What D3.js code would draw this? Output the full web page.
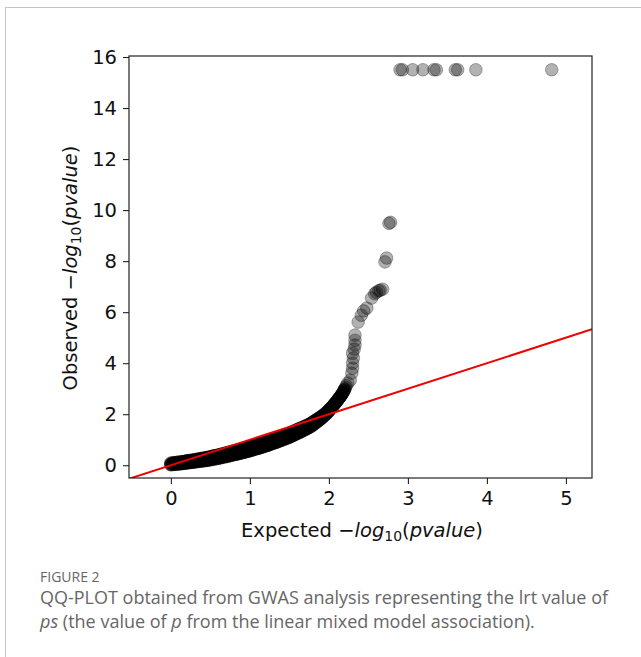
<!DOCTYPE html>
<html>
<head>
<meta charset="utf-8">
<script src="https://cdn.jsdelivr.net/npm/d3@7"></script>
<style>
	html, body { margin: 0; padding: 0; background: white; }
	svg { display: block; }
</style>
</head>
<body>
<div id="container"></div>
<script>
// dense part of the QQ curve (expected vs observed -log10 p)
const bandExpected = [
	0.000, 0.025, 0.050, 0.075, 0.100, 0.125, 0.150, 0.175, 0.200, 0.225,
	0.250, 0.275, 0.300, 0.325, 0.350, 0.375, 0.400, 0.425, 0.450, 0.475,
	0.500, 0.525, 0.550, 0.575, 0.600, 0.625, 0.650, 0.675, 0.700, 0.725,
	0.750, 0.775, 0.800, 0.825, 0.850, 0.875, 0.900, 0.925, 0.950, 0.975,
	1.000, 1.025, 1.050, 1.075, 1.100, 1.125, 1.150, 1.175, 1.200, 1.225,
	1.250, 1.275, 1.300, 1.325, 1.350, 1.375, 1.400, 1.425, 1.450, 1.475,
	1.500, 1.525, 1.550, 1.575, 1.600, 1.625, 1.650, 1.675, 1.700, 1.725,
	1.750, 1.775, 1.800, 1.825, 1.850, 1.875, 1.900, 1.925, 1.950, 1.975,
	2.000
];
// upper edge of the black band
const bandObserved = [
	0.08, 0.09, 0.10, 0.11, 0.12, 0.13, 0.14, 0.15, 0.17, 0.18,
	0.19, 0.20, 0.21, 0.23, 0.24, 0.26, 0.27, 0.28, 0.30, 0.31,
	0.33, 0.35, 0.37, 0.38, 0.40, 0.42, 0.44, 0.46, 0.48, 0.50,
	0.52, 0.54, 0.56, 0.58, 0.60, 0.62, 0.64, 0.66, 0.69, 0.71,
	0.73, 0.75, 0.78, 0.80, 0.82, 0.85, 0.87, 0.90, 0.92, 0.95,
	0.97, 1.00, 1.03, 1.06, 1.09, 1.12, 1.14, 1.17, 1.20, 1.23,
	1.26, 1.29, 1.33, 1.36, 1.40, 1.43, 1.46, 1.50, 1.53, 1.57,
	1.60, 1.65, 1.70, 1.75, 1.80, 1.85, 1.90, 1.96, 2.02, 2.09,
	2.17
];
// lower edge of the black band
const bandObservedLow = [
	0.02, 0.03, 0.04, 0.05, 0.05, 0.06, 0.07, 0.08, 0.09, 0.10,
	0.11, 0.12, 0.13, 0.14, 0.15, 0.16, 0.17, 0.18, 0.19, 0.20,
	0.22, 0.23, 0.25, 0.26, 0.28, 0.29, 0.31, 0.33, 0.34, 0.36,
	0.38, 0.40, 0.42, 0.43, 0.45, 0.47, 0.49, 0.51, 0.53, 0.55,
	0.57, 0.59, 0.62, 0.64, 0.66, 0.68, 0.71, 0.73, 0.76, 0.78,
	0.81, 0.84, 0.87, 0.89, 0.92, 0.95, 0.98, 1.01, 1.04, 1.07,
	1.10, 1.14, 1.17, 1.21, 1.25, 1.28, 1.32, 1.36, 1.40, 1.44,
	1.48, 1.53, 1.58, 1.64, 1.70, 1.76, 1.82, 1.89, 1.96, 2.03,
	2.11
];

// the sparser tail that bends upwards
const tailExpected = [
	2.01, 2.02, 2.03, 2.04, 2.05, 2.06, 2.07, 2.08, 2.09, 2.10,
	2.11, 2.12, 2.13, 2.14, 2.15, 2.16, 2.17, 2.18, 2.19, 2.20,
	2.21, 2.22, 2.24, 2.27, 2.29, 2.30, 2.30, 2.31, 2.30, 2.32,
	2.33, 2.33, 2.33, 2.37, 2.41, 2.44, 2.48, 2.54, 2.58, 2.60,
	2.63, 2.65, 2.68, 2.71, 2.73, 2.76, 2.78
];
const tailObserved = [
	2.19, 2.22, 2.25, 2.28, 2.32, 2.36, 2.40, 2.43, 2.47, 2.51,
	2.55, 2.60, 2.63, 2.67, 2.72, 2.76, 2.81, 2.86, 2.92, 2.98,
	3.05, 3.12, 3.22, 3.33, 3.61, 3.80, 4.00, 4.20, 4.39, 4.55,
	4.71, 4.90, 5.10, 5.61, 5.88, 6.05, 6.16, 6.55, 6.72, 6.78,
	6.84, 6.86, 6.90, 7.97, 8.12, 9.48, 9.52
];

// p = 0 values, capped at the top row
const capExpected = [2.90, 2.93, 3.06, 3.19, 3.33, 3.36, 3.60, 3.63, 3.86, 4.82];
const capObserved = [15.5, 15.5, 15.5, 15.5, 15.5, 15.5, 15.5, 15.5, 15.5, 15.5];

const xTicks = [0, 1, 2, 3, 4, 5];
const yTicks = [0, 2, 4, 6, 8, 10, 12, 14, 16];

const W = 641, H = 657;
const LEFT = 129, RIGHT = 592, TOP = 56, BOTTOM = 478;
const TICK_FONT = '"DejaVu Sans", sans-serif';
const FONT_SIZE = '19.5px';
const STACKED = 0.6, SINGLE = 0.3;

const svg = d3.select('#container').append('svg')
	.attr('width', W)
	.attr('height', H);

// outer figure box
svg.append('rect')
	.attr('x', 5.5).attr('y', 7.5)
	.attr('width', 700).attr('height', 700)
	.attr('fill', 'white')
	.attr('stroke', '#c4c4c4')
	.attr('stroke-width', 1);

const x = d3.scaleLinear().domain([-0.53, 5.33]).range([LEFT, RIGHT]);
const y = d3.scaleLinear().domain([-0.5, 16.04]).range([BOTTOM, TOP]);

svg.append('clipPath').attr('id', 'plotclip')
	.append('rect')
	.attr('x', LEFT).attr('y', TOP)
	.attr('width', RIGHT - LEFT).attr('height', BOTTOM - TOP);

const plot = svg.append('g').attr('clip-path', 'url(#plotclip)');

// points in the dense part stand for many stacked SNPs, so they are drawn darker
const points = [];
bandExpected.forEach((e, i) => points.push([e, bandObserved[i], STACKED]));
bandExpected.forEach((e, i) => points.push([e, bandObservedLow[i], STACKED]));
tailExpected.forEach((e, i) => points.push([e, tailObserved[i], tailObserved[i] < 3 ? STACKED : SINGLE]));
capExpected.forEach((e, i) => points.push([e, capObserved[i], SINGLE]));

plot.selectAll('circle').data(points).enter().append('circle')
	.attr('cx', d => x(d[0]))
	.attr('cy', d => y(d[1]))
	.attr('r', 6.3)
	.attr('fill', 'black')
	.attr('fill-opacity', d => d[2])
	.attr('stroke', 'black')
	.attr('stroke-opacity', d => d[2])
	.attr('stroke-width', 1);

// y = x reference line
const lo = x.domain()[0], hi = x.domain()[1];
plot.append('line')
	.attr('x1', x(lo)).attr('y1', y(lo))
	.attr('x2', x(hi)).attr('y2', y(hi))
	.attr('stroke', '#ee0000')
	.attr('stroke-width', 2);

// axes
const xAxis = svg.append('g')
	.attr('transform', `translate(0,${BOTTOM})`)
	.call(d3.axisBottom(x).tickValues(xTicks).tickFormat(d3.format('d'))
		.tickSize(6).tickPadding(7));
const yAxis = svg.append('g')
	.attr('transform', `translate(${LEFT},0)`)
	.call(d3.axisLeft(y).tickValues(yTicks).tickFormat(d3.format('d'))
		.tickSize(6).tickPadding(6));

[xAxis, yAxis].forEach(g => {
	g.select('.domain').remove();
	g.selectAll('.tick line').attr('stroke', '#222').attr('stroke-width', 1.1);
	g.selectAll('.tick text')
		.attr('fill', '#111')
		.style('font-family', TICK_FONT)
		.style('font-size', FONT_SIZE);
});

// frame
svg.append('rect')
	.attr('x', LEFT).attr('y', TOP)
	.attr('width', RIGHT - LEFT).attr('height', BOTTOM - TOP)
	.attr('fill', 'none')
	.attr('stroke', '#222')
	.attr('stroke-width', 1.2);

function axisLabel(sel, word) {
	sel.style('font-family', TICK_FONT)
		.style('font-size', FONT_SIZE)
		.attr('fill', '#111');
	sel.append('tspan').text(word + ' \u2212');
	sel.append('tspan').style('font-style', 'italic').text('log');
	sel.append('tspan').style('font-size', '14px').attr('dy', 4).text('10');
	sel.append('tspan').attr('dy', -4).text('(');
	sel.append('tspan').style('font-style', 'italic').text('pvalue');
	sel.append('tspan').text(')');
}

svg.append('text')
	.attr('x', 362)
	.attr('y', 537)
	.attr('text-anchor', 'middle')
	.call(axisLabel, 'Expected');

svg.append('text')
	.attr('transform', 'translate(77,268) rotate(-90)')
	.attr('text-anchor', 'middle')
	.call(axisLabel, 'Observed');

// caption
const CAP_FONT = '"Open Sans", "Noto Sans", sans-serif';
svg.append('text')
	.attr('x', 40).attr('y', 582)
	.style('font-family', CAP_FONT)
	.style('font-size', '14px')
	.attr('fill', '#666')
	.text('FIGURE 2');

svg.append('text')
	.attr('x', 40).attr('y', 604)
	.style('font-family', CAP_FONT)
	.style('font-size', '18px')
	.attr('fill', '#666')
	.text('QQ-PLOT obtained from GWAS analysis representing the lrt value of');

const cap2 = svg.append('text')
	.attr('x', 40).attr('y', 628)
	.style('font-family', CAP_FONT)
	.style('font-size', '18px')
	.attr('fill', '#666');
cap2.append('tspan').style('font-style', 'italic').text('ps');
cap2.append('tspan').text(' (the value of ');
cap2.append('tspan').style('font-style', 'italic').text('p');
cap2.append('tspan').text(' from the linear mixed model association).');
</script>
</body>
</html>
